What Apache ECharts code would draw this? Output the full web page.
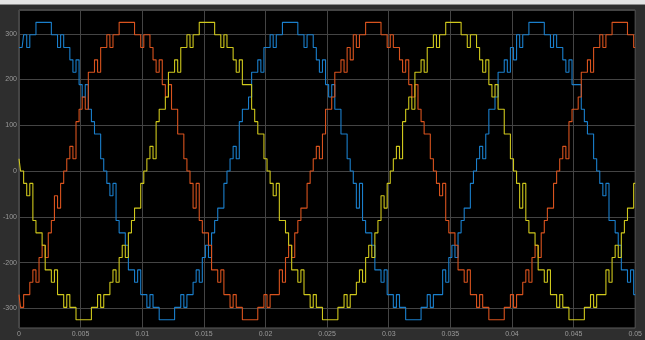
<!DOCTYPE html>
<html>
<head>
<meta charset="utf-8">
<script src="https://cdn.jsdelivr.net/npm/echarts@6/dist/echarts.min.js"></script>
<style>
  html, body { margin: 0; padding: 0; background: #2e2e2e; }
  #chart { width: 645px; height: 340px; }
</style>
</head>
<body>
<div id="chart"></div>
<script>
// Three-phase multilevel inverter output voltage, sampled every 0.25 ms (0 .. 0.05 s)
const sampleStep = 0.00025;

const xTickLabels = ['0', '0.005', '0.01', '0.015', '0.02', '0.025', '0.03', '0.035', '0.04', '0.045', '0.05'];
const yTickLabels = ['-300', '-200', '-100', '0', '100', '200', '300'];

const phaseA = [
  270,270,298,270,298,298,325,325,
  325,325,325,298,298,270,298,270,270,243,
  216,243,189,162,189,135,108,81,81,27,
  0,-27,-54,-27,-108,-135,-135,-162,-216,-216,
  -243,-216,-270,-270,-298,-270,-298,-298,-325,-325,
  -325,-325,-325,-298,-298,-270,-298,-270,-270,-243,
  -216,-243,-189,-162,-189,-135,-108,-81,-81,-27,
  0,27,54,27,108,135,135,162,216,216,
  243,216,270,270,298,270,298,298,325,325,
  325,325,325,298,298,270,298,298,270,243,
  216,243,189,162,189,135,135,81,81,27,
  0,-27,-81,-27,-108,-135,-135,-162,-216,-216,
  -243,-216,-270,-270,-298,-270,-298,-298,-325,-325,
  -325,-325,-325,-298,-298,-270,-298,-270,-270,-270,
  -216,-243,-189,-162,-189,-135,-108,-81,-81,-27,
  0,27,54,27,81,135,135,162,216,216,
  243,216,270,243,298,270,298,298,325,325,
  325,325,325,298,298,270,298,270,270,243,
  216,243,189,189,189,135,108,81,81,27,
  0,-27,-54,-27,-108,-108,-135,-162,-216,-216,
  -243,-216,-270
];

const phaseB = [
  -270,-298,-270,-270,-243,
  -216,-243,-189,-162,-189,-135,-108,-54,-81,-27,
  0,27,54,27,108,135,162,135,216,216,
  243,216,270,270,298,270,298,298,325,325,
  325,325,325,298,298,270,298,298,270,243,
  216,243,189,162,189,135,135,81,81,27,
  0,-27,-81,-27,-108,-135,-135,-162,-216,-216,
  -243,-216,-270,-270,-298,-270,-298,-298,-325,-325,
  -325,-325,-325,-298,-298,-270,-298,-270,-270,-270,
  -216,-243,-189,-162,-189,-135,-108,-81,-81,-27,
  0,27,54,27,81,135,135,162,216,216,
  243,216,270,243,298,270,298,298,325,325,
  325,325,325,298,298,270,298,270,270,243,
  216,243,189,162,189,135,108,81,81,27,
  0,-27,-54,-27,-108,-135,-135,-162,-216,-216,
  -243,-216,-270,-270,-298,-270,-298,-298,-325,-325,
  -325,-325,-325,-298,-298,-270,-298,-270,-270,-243,
  -216,-243,-189,-162,-189,-135,-108,-81,-81,-27,
  0,27,54,27,108,135,135,162,216,216,
  243,216,270,270,298,270,298,298,325,325,
  325,325,325,298,298,270
];

const phaseC = [
  27,
  0,-27,-54,-27,-108,-135,-135,-162,-216,-216,
  -243,-216,-270,-270,-298,-270,-298,-298,-325,-325,
  -325,-325,-325,-298,-298,-270,-298,-270,-270,-243,
  -216,-243,-189,-162,-189,-135,-108,-81,-81,-27,
  0,27,54,27,108,135,135,162,216,216,
  243,216,270,270,298,270,298,298,325,325,
  325,325,325,298,298,270,298,270,270,243,
  216,243,189,189,189,135,108,81,81,27,
  0,-27,-54,-27,-108,-108,-135,-162,-216,-216,
  -243,-216,-270,-270,-298,-270,-298,-298,-325,-325,
  -325,-325,-325,-298,-298,-270,-298,-270,-270,-243,
  -216,-243,-189,-162,-189,-135,-108,-54,-81,-27,
  0,27,54,27,108,135,162,135,216,216,
  243,216,270,270,298,270,298,298,325,325,
  325,325,325,298,298,270,298,298,270,243,
  216,243,189,162,189,135,135,81,81,27,
  0,-27,-81,-27,-108,-135,-135,-162,-216,-216,
  -243,-216,-270,-270,-298,-270,-298,-298,-325,-325,
  -325,-325,-325,-298,-298,-270,-298,-270,-270,-270,
  -216,-243,-189,-162,-189,-135,-108,-81,-81,-27
];

const seriesColors = ['#1a7fcc', '#d9531e', '#cfc81c'];

function toPoints(values) {
  return values.map((v, i) => [+(i * sampleStep).toFixed(5), v]);
}

const chart = echarts.init(document.getElementById('chart'), null, { renderer: 'canvas' });

const labelStyle = { color: '#9a9a9a', fontSize: 7, fontFamily: 'Liberation Sans, Arial, sans-serif' };

chart.setOption({
  backgroundColor: '#2e2e2e',
  animation: false,
  graphic: [
    { type: 'rect', left: 0, top: 0, shape: { width: 645, height: 4 }, style: { fill: '#e4e4e4' }, silent: true },
    { type: 'rect', left: 0, top: 4, shape: { width: 645, height: 1 }, style: { fill: '#8c8c8c' }, silent: true }
  ],
  grid: {
    left: 16, right: 5, top: 10, bottom: 12,
    show: true, backgroundColor: '#000000', borderColor: '#5c5c5c', borderWidth: 1
  },
  xAxis: {
    type: 'value', min: 0, max: 0.05, interval: 0.005,
    axisLine: { show: false }, axisTick: { show: false },
    splitLine: { show: true, lineStyle: { color: '#444444', width: 1 } },
    axisLabel: Object.assign({}, labelStyle, {
      margin: 3,
      formatter: (v, idx) => xTickLabels[idx] !== undefined ? xTickLabels[idx] : ''
    })
  },
  yAxis: {
    type: 'value', min: -343, max: 352, splitNumber: 7,
    axisLine: { show: false }, axisTick: { show: false },
    splitLine: { show: true, lineStyle: { color: '#444444', width: 1 } },
    axisLabel: Object.assign({}, labelStyle, {
      margin: 2, showMinLabel: false, showMaxLabel: false,
      formatter: v => yTickLabels.includes(String(v)) ? String(v) : ''
    })
  },
  series: [phaseA, phaseB, phaseC].map((vals, n) => ({
    type: 'line',
    step: 'middle',
    data: toPoints(vals),
    showSymbol: false,
    lineStyle: { color: seriesColors[n], width: 1.1 },
    itemStyle: { color: seriesColors[n] }
  }))
});
</script>
</body>
</html>
